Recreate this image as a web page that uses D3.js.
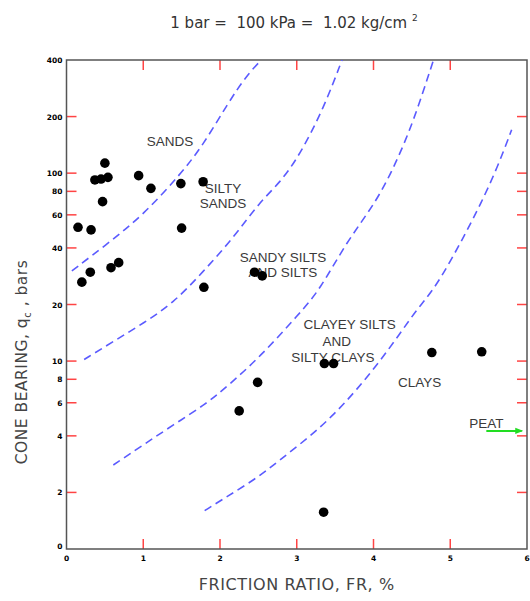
<!DOCTYPE html>
<html>
<head>
<meta charset="utf-8">
<script src="https://cdn.jsdelivr.net/npm/d3@7"></script>
<style>
  body { margin: 0; background: #fff; }
  svg { display: block; }
</style>
</head>
<body>
<div id="d3-container"></div>
<script>
/**
 * CONSTANTS AND GLOBALS
 * */
const width = 530,
  height = 601,
  margin = { top: 60, bottom: 52, left: 66.5, right: 3 };

// soundings: friction ratio (%) and cone bearing (bars)
const frictionRatio = [0.50, 0.37, 0.45, 0.54, 0.94, 1.10, 1.49, 1.78, 0.47, 0.15, 0.32, 1.50,
  0.58, 0.68, 0.31, 0.20, 1.79, 2.45, 2.55, 3.36, 3.48, 4.76, 5.41, 3.35, 2.49, 2.25];
const coneBearing = [113, 92, 93, 95, 97, 83, 88, 90, 70.5, 51.5, 49.9, 51,
  31.4, 33.4, 29.7, 26.3, 24.7, 29.7, 28.4, 9.7, 9.7, 11.1, 11.2, 1.57, 7.7, 5.43];

// zone boundaries (dashed curves)
const sandsFR = [0.07, 0.57, 1.0, 1.48, 1.78, 2.09, 2.35, 2.54];
const sandsQc = [30.2, 43.2, 60, 98, 141, 231, 333, 400];
const siltySandsFR = [0.23, 0.61, 1.0, 1.39, 1.78, 2.17, 2.52, 2.78, 3.04, 3.35, 3.59];
const siltySandsQc = [10.2, 12.7, 15.9, 20.3, 29.9, 45, 70.5, 88.7, 125, 221, 400];
const siltsFR = [0.61, 1.0, 1.39, 1.83, 2.09, 2.52, 3.04, 3.30, 3.65, 4.04, 4.30, 4.52, 4.78];
const siltsQc = [2.80, 3.58, 4.57, 5.96, 7.31, 10.5, 18, 23.9, 43.2, 70.5, 115, 188, 398];
const clayeySiltsFR = [1.80, 2.09, 2.48, 2.78, 3.17, 3.48, 3.78, 4.08, 4.35, 4.56, 4.78, 5.0, 5.21, 5.39, 5.61, 5.80];
const clayeySiltsQc = [1.60, 1.90, 2.38, 2.98, 3.96, 5.17, 7.02, 9.93, 14.1, 18.7, 23.9, 33.8, 48.8, 67.7, 106, 170];

// axes
const xTicks = [0, 1, 2, 3, 4, 5, 6];
const yTicks = [400, 200, 100, 80, 60, 40, 20, 10, 8, 6, 4, 2, 1];
const yTickLabels = ["400", "200", "100", "80", "60", "40", "20", "10", "8", "6", "4", "2", "0"];

// zone names
const zoneText = ["SANDS", "SILTY", "SANDS", "SANDY SILTS", "AND SILTS", "CLAYEY SILTS", "AND", "SILTY CLAYS", "CLAYS", "PEAT"];
const zoneFR = [1.35, 2.04, 2.04, 2.82, 2.82, 3.69, 3.52, 3.47, 4.60, 5.47];
const zoneQc = [140, 78.8, 65.3, 33.8, 28.1, 14.8, 12.0, 9.93, 7.31, 4.42];
const peatArrowFR = [5.47, 5.93];
const peatArrowQc = 4.25;

let svg;

/**
 * INIT
 * */
function init() {
  svg = d3.select("#d3-container")
    .append("svg")
    .attr("width", width)
    .attr("height", height);

  const xScale = d3.scaleLinear()
    .domain([0, 6])
    .range([margin.left, width - margin.right]);

  const yScale = d3.scaleLog()
    .domain([1, 400])
    .range([height - margin.bottom, margin.top]);

  const x0 = xScale.range()[0], x1 = xScale.range()[1];
  const y0 = yScale.range()[0], y1 = yScale.range()[1];

  // defs for the peat arrow
  svg.append("defs")
    .append("marker")
    .attr("id", "head")
    .attr("viewBox", "0 0 10 10")
    .attr("refX", 8)
    .attr("refY", 5)
    .attr("markerWidth", 4)
    .attr("markerHeight", 4)
    .attr("orient", "auto")
    .append("path")
    .attr("d", "M0,1 L10,5 L0,9 Z")
    .attr("fill", "#22dd22");

  // red tick marks on all four sides
  const inner = xTicks.slice(1, -1);
  svg.append("g")
    .selectAll("line")
    .data(inner)
    .join("line")
    .attr("x1", d => xScale(d)).attr("x2", d => xScale(d))
    .attr("y1", y0).attr("y2", y0 - 10)
    .attr("stroke", "#ff4444").attr("stroke-width", 1.5);
  svg.append("g")
    .selectAll("line")
    .data(inner)
    .join("line")
    .attr("x1", d => xScale(d)).attr("x2", d => xScale(d))
    .attr("y1", y1).attr("y2", y1 + 10)
    .attr("stroke", "#ff4444").attr("stroke-width", 1.5);

  const yInner = yTicks.slice(1, -1);
  svg.append("g")
    .selectAll("line")
    .data(yInner)
    .join("line")
    .attr("x1", x0).attr("x2", x0 + 10)
    .attr("y1", d => yScale(d)).attr("y2", d => yScale(d))
    .attr("stroke", "#ff4444").attr("stroke-width", 1.5);
  svg.append("g")
    .selectAll("line")
    .data(yInner)
    .join("line")
    .attr("x1", x1).attr("x2", x1 - 10)
    .attr("y1", d => yScale(d)).attr("y2", d => yScale(d))
    .attr("stroke", "#ff4444").attr("stroke-width", 1.5);

  // frame
  svg.append("rect")
    .attr("x", x0).attr("y", y1)
    .attr("width", x1 - x0).attr("height", y0 - y1)
    .attr("fill", "none")
    .attr("stroke", "#555")
    .attr("stroke-width", 1.5);

  // tick labels
  svg.append("g")
    .selectAll("text")
    .data(xTicks)
    .join("text")
    .attr("x", d => xScale(d))
    .attr("y", y0 + 12)
    .attr("text-anchor", "middle")
    .attr("font-family", "DejaVu Sans, sans-serif")
    .attr("font-size", 7.5)
    .attr("font-weight", "bold")
    .text(d => d);

  svg.append("g")
    .selectAll("text")
    .data(yTicks)
    .join("text")
    .attr("x", x0 - 4)
    .attr("y", (d, i) => yScale(d) + (i === yTicks.length - 1 ? 0 : 3))
    .attr("text-anchor", "end")
    .attr("font-family", "DejaVu Sans, sans-serif")
    .attr("font-size", 7.5)
    .attr("font-weight", "bold")
    .text((d, i) => yTickLabels[i]);

  // boundary curves
  const line = d3.line()
    .x(d => xScale(d[0]))
    .y(d => yScale(d[1]))
    .curve(d3.curveBasis);

  const curves = [
    d3.zip(sandsFR, sandsQc),
    d3.zip(siltySandsFR, siltySandsQc),
    d3.zip(siltsFR, siltsQc),
    d3.zip(clayeySiltsFR, clayeySiltsQc)
  ];

  svg.append("g")
    .selectAll("path")
    .data(curves)
    .join("path")
    .attr("d", line)
    .attr("fill", "none")
    .attr("stroke", "#5b5bff")
    .attr("stroke-width", 1.6)
    .attr("stroke-dasharray", "8,5");

  // zone labels
  svg.append("g")
    .selectAll("text")
    .data(zoneText)
    .join("text")
    .attr("x", (d, i) => xScale(zoneFR[i]))
    .attr("y", (d, i) => yScale(zoneQc[i]))
    .attr("text-anchor", "middle")
    .attr("font-family", "Liberation Sans, Arial, sans-serif")
    .attr("font-size", 13.5)
    .attr("fill", "#3a3a3a")
    .text(d => d);

  svg.append("line")
    .attr("x1", xScale(peatArrowFR[0]))
    .attr("x2", xScale(peatArrowFR[1]))
    .attr("y1", yScale(peatArrowQc))
    .attr("y2", yScale(peatArrowQc))
    .attr("stroke", "#22dd22")
    .attr("stroke-width", 2)
    .attr("marker-end", "url(#head)");

  // data points
  svg.append("g")
    .selectAll("circle")
    .data(frictionRatio)
    .join("circle")
    .attr("cx", d => xScale(d))
    .attr("cy", (d, i) => yScale(coneBearing[i]))
    .attr("r", 4.8)
    .attr("fill", "#000");

  // titles
  const title = svg.append("text")
    .attr("x", 294)
    .attr("y", 28)
    .attr("text-anchor", "middle")
    .attr("font-family", "DejaVu Sans, sans-serif")
    .attr("font-size", 15)
    .attr("fill", "#333")
    .style("white-space", "pre");
  title.append("tspan").text("1 bar =  100 kPa =  1.02 kg/cm ");
  title.append("tspan").attr("dy", -7).attr("font-size", 9).text("2");

  svg.append("text")
    .attr("x", (x0 + x1) / 2)
    .attr("y", height - 11)
    .attr("text-anchor", "middle")
    .attr("font-family", "DejaVu Sans, sans-serif")
    .attr("font-size", 16)
    .attr("letter-spacing", 0.6)
    .attr("fill", "#444")
    .text("FRICTION RATIO, FR, %");

  const ylab = svg.append("text")
    .attr("transform", `translate(27,${362}) rotate(-90)`)
    .attr("text-anchor", "middle")
    .attr("font-family", "DejaVu Sans, sans-serif")
    .attr("font-size", 15.5)
    .attr("letter-spacing", 0.5)
    .attr("fill", "#444")
    .style("white-space", "pre");
  ylab.append("tspan").text("CONE BEARING, q");
  ylab.append("tspan").attr("dy", 4).attr("font-size", 10).text("c");
  ylab.append("tspan").attr("dy", -4).text(" , bars");
}

init();
</script>
</body>
</html>
